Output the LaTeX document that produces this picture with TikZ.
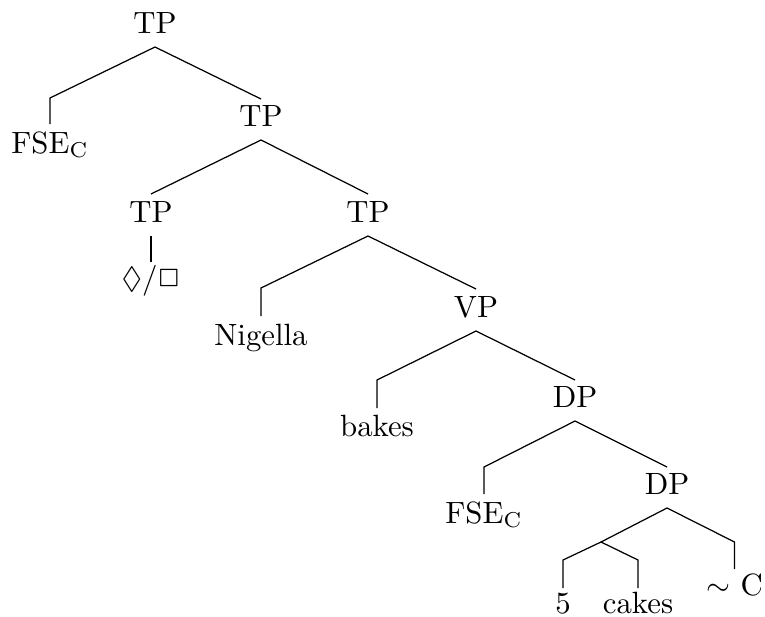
\documentclass[tikz,border=0pt]{standalone}
\usepackage{latexsym}
\DeclareSymbolFont{myAMSa}{U}{msa}{m}{n}
\DeclareMathSymbol{\mylozenge}{\mathord}{myAMSa}{"06}
\usetikzlibrary{calc}
\begin{document}
\begin{tikzpicture}[x=0.325pt,y=-0.325pt,
  lab/.style={anchor=base,inner sep=0pt,font=\normalsize},
  br/.style={line width=0.4pt}]
\useasboundingbox (0,0) rectangle (765,616);
% nodes
\node[lab] (tp0) at (155,33) {TP};
\node[lab] (fse1) at (50,153) {FSE$_\mathrm{C}$};
\node[lab] (tp1) at (261,126) {TP};
\node[lab] (tp2l) at (151,222) {TP};
\node[lab] (tp2r) at (368,222) {TP};
\node[lab] (modal) at (151,288) {$\mylozenge/\Box$};
\node[lab] (nig) at (261,345) {Nigella};
\node[lab] (vp) at (476,317) {VP};
\node[lab] (bakes) at (377,436) {bakes};
\node[lab] (dp1) at (575,407) {DP};
\node[lab] (fse2) at (484,523) {FSE$_\mathrm{C}$};
\node[lab] (dp2) at (667,494) {DP};
\coordinate (e) at (601,542);
\node[lab] (five) at (563,613) {5};
\node[lab] (cakes) at (638,613) {cakes};
\node[lab] (negc) at (734.5,595) {$\sim$ C};
% edges
\draw[br] ($(tp0.base)+(0,14)$) -- ($(fse1.base)+(0,-55)$) -- ($(fse1.base)+(0,-29)$);
\draw[br] ($(tp0.base)+(0,14)$) -- ($(tp1.base)+(0,-27)$);
\draw[br] ($(tp1.base)+(0,14)$) -- ($(tp2l.base)+(0,-28)$);
\draw[br] ($(tp1.base)+(0,14)$) -- ($(tp2r.base)+(0,-28)$);
\draw[br] ($(tp2l.base)+(0,14)$) -- ($(modal.base)+(0,-26)$);
\draw[br] ($(tp2r.base)+(0,14)$) -- ($(nig.base)+(0,-57)$) -- ($(nig.base)+(0,-29)$);
\draw[br] ($(tp2r.base)+(0,14)$) -- ($(vp.base)+(0,-28)$);
\draw[br] ($(vp.base)+(0,14)$) -- ($(bakes.base)+(0,-56)$) -- ($(bakes.base)+(0,-28)$);
\draw[br] ($(vp.base)+(0,14)$) -- ($(dp1.base)+(0,-27)$);
\draw[br] ($(dp1.base)+(0,14)$) -- ($(fse2.base)+(0,-56)$) -- ($(fse2.base)+(0,-29)$);
\draw[br] ($(dp1.base)+(0,14)$) -- ($(dp2.base)+(0,-27)$);
\draw[br] ($(dp2.base)+(0,14)$) -- (e);
\draw[br] ($(dp2.base)+(0,14)$) -- ($(negc.base)+(0,-53)$) -- ($(negc.base)+(0,-26)$);
\draw[br] (e) -- ($(five.base)+(0,-53)$) -- ($(five.base)+(0,-25)$);
\draw[br] (e) -- ($(cakes.base)+(0,-53)$) -- ($(cakes.base)+(0,-25)$);
\end{tikzpicture}
\end{document}
